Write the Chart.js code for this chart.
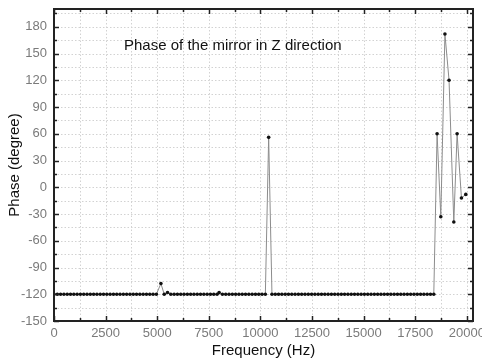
<!DOCTYPE html>
<html>
<head>
<meta charset="utf-8">
<script src="https://cdn.jsdelivr.net/npm/chart.js@4/dist/chart.umd.min.js"></script>
<style>
  html, body { margin: 0; padding: 0; background: #ffffff; }
  #wrap { width: 482px; height: 361px; }
</style>
</head>
<body>
<div id="wrap"><canvas id="c" width="482" height="361"></canvas></div>
<script>
// ---- data ----
const frequencyHz = [
  0,160,320,480,640,800,960,1120,1280,1440,
  1600,1760,1920,2080,2240,2400,2560,2720,2880,3040,
  3200,3360,3520,3680,3840,4000,4160,4320,4480,4640,
  4800,4960,5180,5340,5500,5660,5820,5980,6140,6300,
  6460,6620,6780,6940,7100,7260,7420,7580,7740,7900,
  8000,8160,8320,8480,8640,8800,8960,9120,9280,9440,
  9600,9760,9920,10080,10240,10400,10560,10720,10880,11040,
  11200,11360,11520,11680,11840,12000,12160,12320,12480,12640,
  12800,12960,13120,13280,13440,13600,13760,13920,14080,14240,
  14400,14560,14720,14880,15040,15200,15360,15520,15680,15840,
  16000,16160,16320,16480,16640,16800,16960,17120,17280,17440,
  17600,17760,17920,18080,18240,18400,
  18560,18740,18940,19140,19370,19530,19740,19950
];
const phaseDeg = [
  -120,-120,-120,-120,-120,-120,-120,-120,-120,-120,
  -120,-120,-120,-120,-120,-120,-120,-120,-120,-120,
  -120,-120,-120,-120,-120,-120,-120,-120,-120,-120,
  -120,-120,-108,-120,-118,-120,-120,-120,-120,-120,
  -120,-120,-120,-120,-120,-120,-120,-120,-120,-120,
  -118,-120,-120,-120,-120,-120,-120,-120,-120,-120,
  -120,-120,-120,-120,-120,56,-120,-120,-120,-120,
  -120,-120,-120,-120,-120,-120,-120,-120,-120,-120,
  -120,-120,-120,-120,-120,-120,-120,-120,-120,-120,
  -120,-120,-120,-120,-120,-120,-120,-120,-120,-120,
  -120,-120,-120,-120,-120,-120,-120,-120,-120,-120,
  -120,-120,-120,-120,-120,-120,
  60,-33,172,120,-39,60,-12,-8
];
const xTickValues = [0,1250,2500,3750,5000,6250,7500,8750,10000,11250,12500,13750,15000,16250,17500,18750,20000];
const yTickValues = [-150,-135,-120,-105,-90,-75,-60,-45,-30,-15,0,15,30,45,60,75,90,105,120,135,150,165,180,195];
const xLabelStep = 2500;
const yLabelStep = 30;
const chartTitle = 'Phase of the mirror in Z direction';
const xTitle = 'Frequency (Hz)';
const yTitle = 'Phase (degree)';

const points = frequencyHz.map((f, i) => ({ x: f, y: phaseDeg[i] }));
const FONT = '"Liberation Sans", Arial, sans-serif';

const frame = {
  id: 'frame',
  beforeDatasetsDraw(chart) {
    const { ctx, chartArea: a, scales: { x, y } } = chart;
    ctx.save();
    ctx.strokeStyle = '#d2d2d2';
    ctx.lineWidth = 1;
    ctx.setLineDash([1.5, 2]);
    xTickValues.forEach(v => {
      const px = Math.round(x.getPixelForValue(v)) + 0.5;
      if (px <= a.left + 1 || px >= a.right - 1) return;
      ctx.beginPath(); ctx.moveTo(px, a.top); ctx.lineTo(px, a.bottom); ctx.stroke();
    });
    yTickValues.forEach(v => {
      const py = Math.round(y.getPixelForValue(v)) + 0.5;
      if (py <= a.top + 1 || py >= a.bottom - 1) return;
      ctx.beginPath(); ctx.moveTo(a.left, py); ctx.lineTo(a.right, py); ctx.stroke();
    });
    ctx.restore();
    ctx.save();
    ctx.fillStyle = '#111';
    ctx.font = '15px ' + FONT;
    ctx.textBaseline = 'middle';
    ctx.textAlign = 'left';
    ctx.fillText(chartTitle, 124, 46);
    ctx.restore();
  },
  afterDraw(chart) {
    const { ctx, chartArea: a, scales: { x, y } } = chart;
    ctx.save();
    ctx.strokeStyle = '#222';
    ctx.lineWidth = 1.5;
    xTickValues.forEach(v => {
      const px = Math.round(x.getPixelForValue(v)) + 0.5;
      const len = (v % xLabelStep === 0) ? 5 : 3;
      ctx.beginPath(); ctx.moveTo(px, a.bottom); ctx.lineTo(px, a.bottom - len); ctx.stroke();
      ctx.beginPath(); ctx.moveTo(px, a.top); ctx.lineTo(px, a.top + len); ctx.stroke();
    });
    yTickValues.forEach(v => {
      const py = Math.round(y.getPixelForValue(v)) + 0.5;
      const len = (v % yLabelStep === 0) ? 5 : 3;
      ctx.beginPath(); ctx.moveTo(a.left, py); ctx.lineTo(a.left + len, py); ctx.stroke();
      ctx.beginPath(); ctx.moveTo(a.right, py); ctx.lineTo(a.right - len, py); ctx.stroke();
    });
    ctx.lineWidth = 2;
    ctx.strokeRect(a.left, a.top, a.right - a.left, a.bottom - a.top);
    ctx.restore();
  }
};

new Chart(document.getElementById('c'), {
  type: 'line',
  data: {
    datasets: [{
      data: points,
      borderColor: '#8c8c8c',
      borderWidth: 1,
      pointRadius: 1.8,
      pointBackgroundColor: '#111',
      pointBorderWidth: 0,
      pointHoverRadius: 0,
      tension: 0,
      fill: false
    }]
  },
  plugins: [frame],
  options: {
    responsive: false,
    animation: false,
    events: [],
    layout: { padding: { left: 0, top: 9, right: 9, bottom: 0 } },
    plugins: { legend: { display: false }, tooltip: { enabled: false }, title: { display: false } },
    scales: {
      x: {
        type: 'linear',
        min: 0,
        max: 20300,
        afterBuildTicks(s) { s.ticks = xTickValues.map(v => ({ value: v })); },
        afterFit(s) { s.height = 40; s.paddingLeft = 0; s.paddingRight = 0; },
        grid: { display: false, drawTicks: false },
        border: { display: false },
        ticks: {
          autoSkip: false,
          maxRotation: 0,
          padding: 5,
          color: '#7a7a7a',
          font: { family: FONT, size: 13 },
          callback: v => (v % xLabelStep === 0 ? String(v) : '')
        },
        title: {
          display: true,
          text: xTitle,
          color: '#111',
          font: { family: FONT, size: 15 },
          padding: { top: 0, bottom: 1 }
        }
      },
      y: {
        type: 'linear',
        min: -150,
        max: 200,
        afterBuildTicks(s) { s.ticks = yTickValues.map(v => ({ value: v })); },
        afterFit(s) { s.width = 54; s.paddingTop = 0; s.paddingBottom = 0; },
        grid: { display: false, drawTicks: false },
        border: { display: false },
        ticks: {
          autoSkip: false,
          padding: 7,
          color: '#7a7a7a',
          font: { family: FONT, size: 13 },
          callback: v => (v % yLabelStep === 0 ? String(v) : '')
        },
        title: {
          display: true,
          text: yTitle,
          color: '#111',
          font: { family: FONT, size: 15 },
          padding: { top: 6, bottom: 0 }
        }
      }
    }
  }
});
</script>
</body>
</html>
